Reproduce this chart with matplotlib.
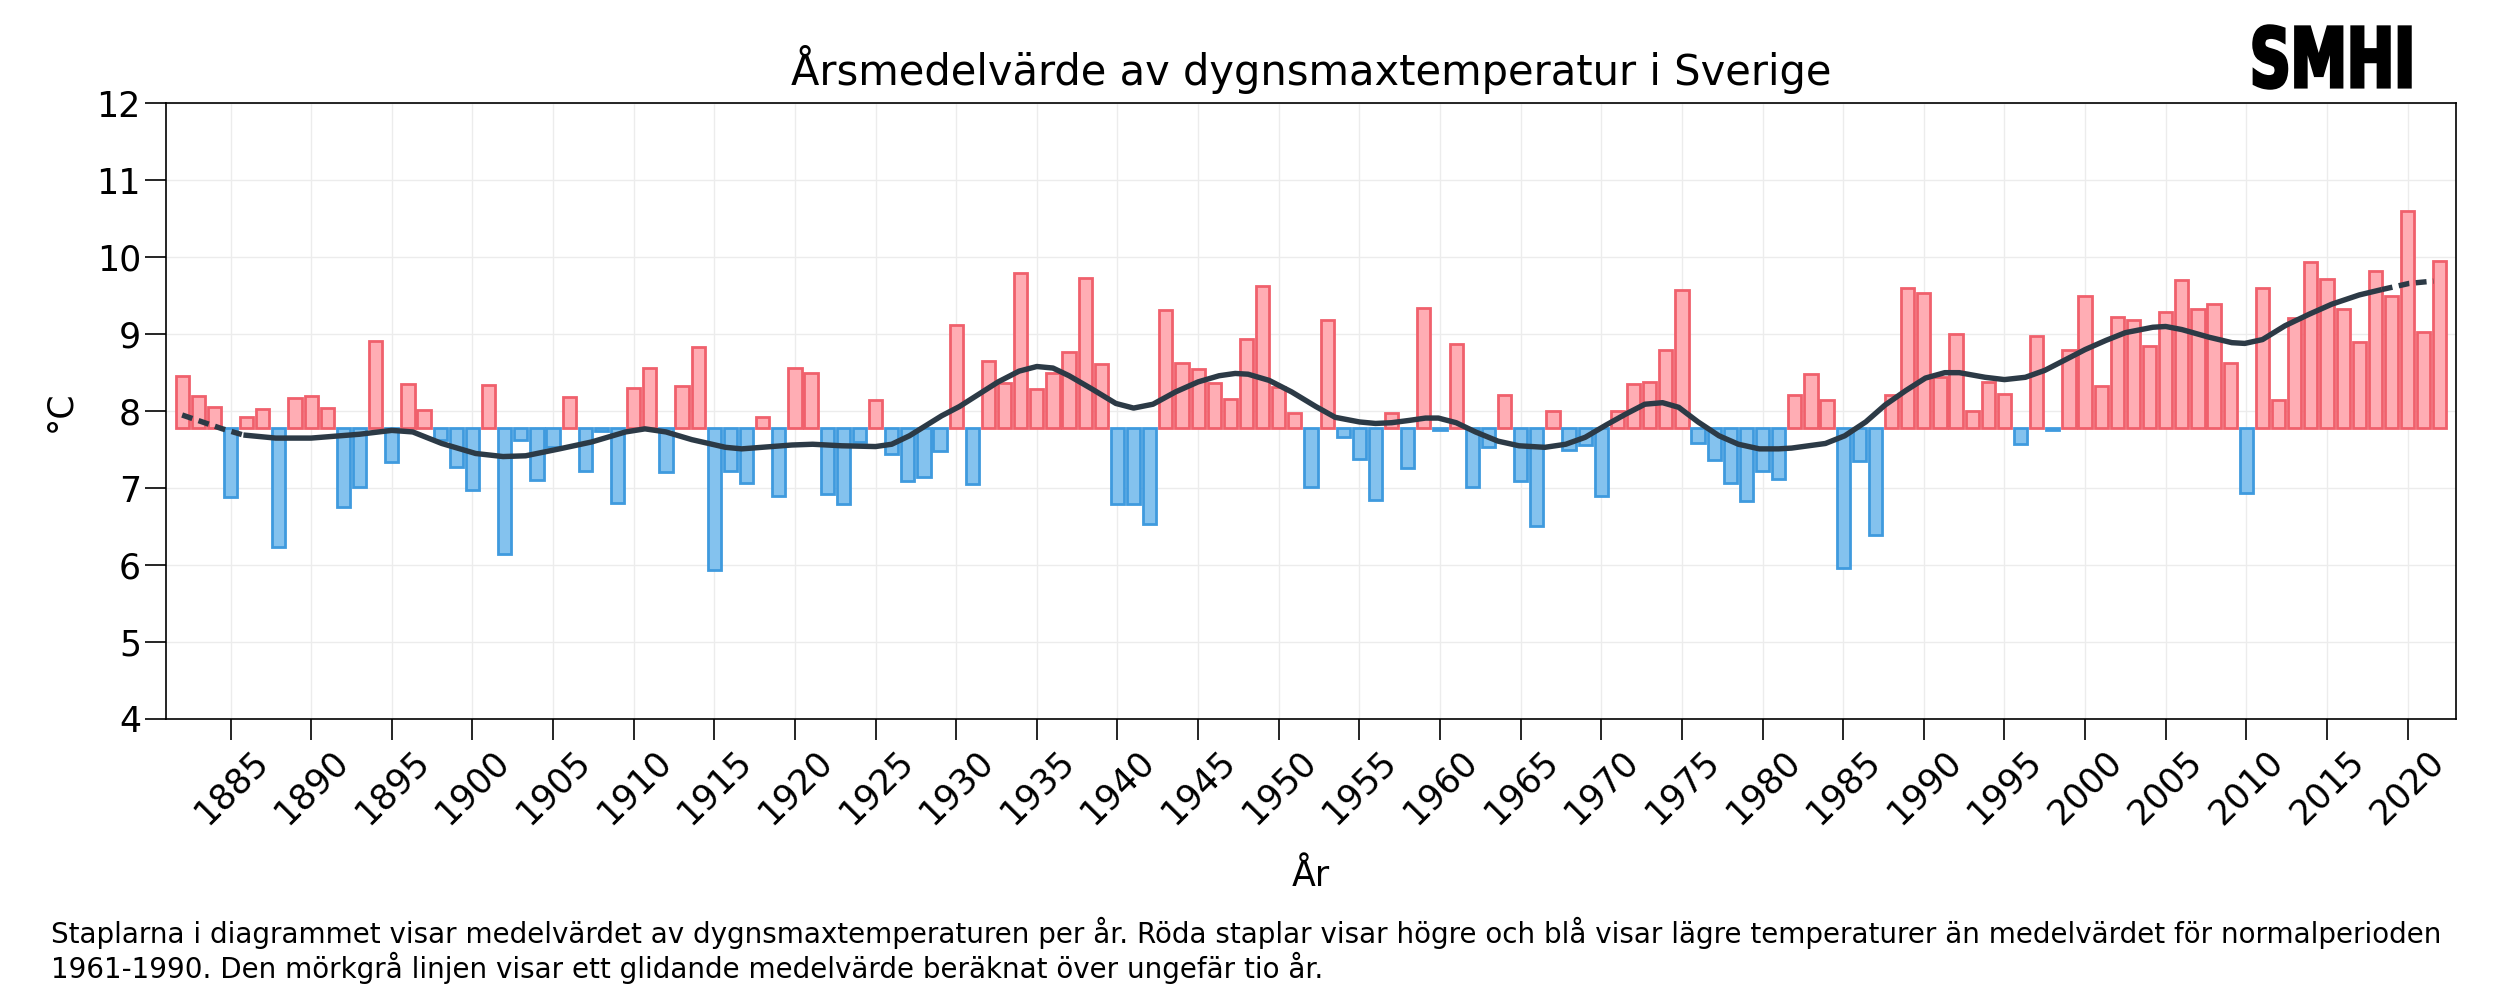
import matplotlib
matplotlib.use("Agg")
import matplotlib.pyplot as plt
import numpy as np
from matplotlib.textpath import TextPath
from matplotlib.patches import PathPatch
from matplotlib.font_manager import FontProperties
from matplotlib.transforms import Affine2D, IdentityTransform

# yearly mean of daily max temperature
years = list(range(1882, 2023))
temps = [
    8.46, 8.20, 8.05, 6.89, 7.93, 8.03, 6.23, 8.17, 8.20,             # 1882-1890
    8.04, 6.76, 7.01, 8.91, 7.34, 8.35, 8.02, 7.62, 7.28, 6.97,       # 1891-1900
    8.34, 6.15, 7.62, 7.11, 7.54, 8.18, 7.22, 7.74, 6.81, 8.30,       # 1901-1910
    8.56, 7.21, 8.33, 8.83, 5.93, 7.22, 7.06, 7.92, 6.90, 8.56,       # 1911-1920
    8.50, 6.92, 6.80, 7.60, 8.15, 7.44, 7.09, 7.14, 7.48, 9.12,       # 1921-1930
    7.05, 8.65, 8.36, 9.79, 8.29, 8.49, 8.77, 9.73, 8.61, 6.79,       # 1931-1940
    6.79, 6.53, 9.31, 8.62, 8.55, 8.36, 8.16, 8.94, 9.63, 8.31,       # 1941-1950
    7.97, 7.02, 9.18, 7.66, 7.38, 6.85, 7.98, 7.26, 9.34, 7.75,       # 1951-1960
    8.87, 7.02, 7.54, 8.21, 7.09, 6.51, 8.00, 7.50, 7.56, 6.90,       # 1961-1970
    8.00, 8.35, 8.38, 8.80, 9.57, 7.58, 7.37, 7.06, 6.83, 7.22,       # 1971-1980
    7.12, 8.21, 8.48, 8.15, 5.96, 7.35, 6.39, 8.21, 9.60, 9.54,       # 1981-1990
    8.44, 9.00, 8.00, 8.38, 8.22, 7.57, 8.98, 7.76, 8.80, 9.49,       # 1991-2000
    8.33, 9.22, 9.18, 8.85, 9.29, 9.70, 9.33, 9.39, 8.63, 6.94,       # 2001-2010
    9.60, 8.15, 9.21, 9.94, 9.72, 9.33, 8.90, 9.82, 9.50, 10.60,      # 2011-2020
    9.03, 9.95,                                                       # 2021-2022
]
baseline = 7.78  # normal 1961-1990

# moving average line
line_start_x = [1882.0, 1883.25, 1884.5, 1885.8]
line_start_y = [7.95, 7.86, 7.77, 7.69]
line_mid_x = [1885.8, 1887.8, 1890.0, 1893.0, 1895.0, 1896.3, 1898.1, 1900.2, 1901.9, 1903.3,
              1905.4, 1907.4, 1909.5, 1910.7, 1912.0, 1913.6, 1915.7, 1916.7, 1919.8, 1921.1,
              1922.9, 1925.0, 1926.0, 1927.1, 1928.1, 1929.1, 1930.2, 1931.4, 1932.6, 1933.9,
              1935.0, 1936.0, 1937.0, 1938.4, 1939.9, 1941.0, 1942.2, 1943.6, 1945.0, 1946.3,
              1947.3, 1948.1, 1949.4, 1950.8, 1952.3, 1953.5, 1955.0, 1956.0, 1957.0, 1958.1,
              1959.1, 1959.9, 1961.0, 1962.2, 1963.6, 1964.9, 1966.5, 1967.8, 1969.0, 1970.3,
              1971.5, 1972.7, 1973.8, 1974.8, 1976.0, 1977.3, 1978.5, 1979.8, 1981.0, 1981.8,
              1983.9, 1985.1, 1986.4, 1987.6, 1988.9, 1990.1, 1991.3, 1992.2, 1993.8, 1995.0,
              1996.3, 1997.5, 1998.8, 2000.0, 2001.3, 2002.5, 2004.2, 2005.0, 2006.0, 2007.7,
              2009.1, 2009.9, 2011.0, 2012.4, 2013.9, 2015.3, 2017.0, 2018.4]
line_mid_y = [7.69, 7.65, 7.65, 7.70, 7.75, 7.73, 7.58, 7.45, 7.41, 7.42,
              7.51, 7.60, 7.73, 7.77, 7.73, 7.63, 7.53, 7.51, 7.56, 7.57,
              7.55, 7.54, 7.57, 7.68, 7.81, 7.94, 8.06, 8.22, 8.38, 8.52,
              8.58, 8.56, 8.46, 8.29, 8.10, 8.04, 8.09, 8.25, 8.38, 8.46,
              8.49, 8.48, 8.40, 8.25, 8.06, 7.92, 7.86, 7.84, 7.85, 7.88,
              7.91, 7.91, 7.85, 7.73, 7.61, 7.55, 7.53, 7.57, 7.66, 7.82,
              7.96, 8.09, 8.11, 8.05, 7.86, 7.68, 7.57, 7.51, 7.51, 7.52,
              7.58, 7.68, 7.86, 8.08, 8.27, 8.43, 8.50, 8.50, 8.44, 8.41,
              8.44, 8.53, 8.67, 8.80, 8.92, 9.02, 9.09, 9.10, 9.06, 8.96,
              8.89, 8.88, 8.93, 9.11, 9.26, 9.39, 9.51, 9.58]
line_end_x = [2018.4, 2020.1, 2021.6]
line_end_y = [9.58, 9.66, 9.69]

xticks = list(range(1885, 2021, 5))
yticks = list(range(4, 13))

title = "Årsmedelvärde av dygnsmaxtemperatur i Sverige"
caption1 = ("Staplarna i diagrammet visar medelvärdet av dygnsmaxtemperaturen per år. "
            "Röda staplar visar högre och blå visar lägre temperaturer än medelvärdet för normalperioden")
caption2 = "1961-1990. Den mörkgrå linjen visar ett glidande medelvärde beräknat över ungefär tio år."

red_fill, red_edge = "#ffadb4", "#f0606c"
blue_fill, blue_edge = "#84c2ee", "#3f9ade"
line_col = "#2c3a46"

fig = plt.figure(figsize=(25, 10), dpi=100)
ax = fig.add_axes([0.0664, 0.281, 0.916, 0.6157])

t = np.array(temps)
yr = np.array(years)
warm = t >= baseline
ax.bar(yr[warm], t[warm] - baseline, bottom=baseline, width=0.82,
       color=red_fill, edgecolor=red_edge, linewidth=2.0, zorder=2)
ax.bar(yr[~warm], t[~warm] - baseline, bottom=baseline, width=0.82,
       color=blue_fill, edgecolor=blue_edge, linewidth=2.0, zorder=2)

ax.plot(line_mid_x, line_mid_y, color=line_col, lw=3.9, solid_capstyle="butt", zorder=3)
ax.plot(line_start_x, line_start_y, color=line_col, lw=3.9, ls=(0, (2.0, 1.2)), zorder=3)
ax.plot(line_end_x, line_end_y, color=line_col, lw=3.9, ls=(0, (2.0, 1.2)), zorder=3)

ax.set_xlim(1881, 2023)
ax.set_ylim(4, 12)
ax.set_xticks(xticks)
ax.set_yticks(yticks)
ax.tick_params(axis="both", labelsize=25, length=15, width=1.2, direction="out", pad=3)
plt.setp(ax.get_xticklabels(), rotation=45)
ax.grid(True, color="#ececec", lw=1.0, zorder=0)
ax.set_axisbelow(True)
for s in ax.spines.values():
    s.set_linewidth(1.2)

ax.set_ylabel("°C", fontsize=25, labelpad=14)
ax.set_xlabel("År", fontsize=25, labelpad=20)

fig.text(0.5244, 0.931, title, fontsize=30, ha="center", va="center")
fig.text(0.0204, 0.067, caption1, fontsize=20, ha="left", va="center")
fig.text(0.0204, 0.032, caption2, fontsize=20, ha="left", va="center")

# SMHI logo drawn as a squeezed text path
tp = TextPath((0, 0), "SMHI", size=1, prop=FontProperties(family="DejaVu Sans", weight="bold"))
bb = tp.get_extents()
tr = (Affine2D().translate(-bb.x0, -bb.y0)
      .scale(156 / bb.width, 62 / bb.height).translate(2254, 912))
logo = PathPatch(tr.transform_path(tp), facecolor="black", edgecolor="black",
                 linewidth=2.5, transform=IdentityTransform())
fig.add_artist(logo)

fig.savefig("out.png", dpi=100)
